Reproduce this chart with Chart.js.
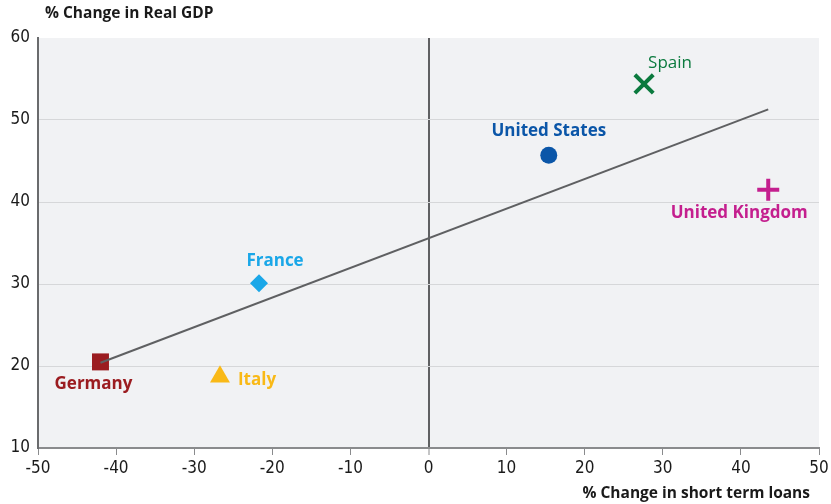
<!DOCTYPE html>
<html><head><meta charset="utf-8">
<script src="https://cdn.jsdelivr.net/npm/chart.js@4/dist/chart.umd.min.js"></script>
<style>html,body{margin:0;padding:0;background:#fff}#wrap{width:831px;height:504px}</style>
</head><body><div id="wrap"><canvas id="c" width="831" height="504"></canvas></div>
<script>
const countries = ["Germany","Italy","France","United States","Spain","United Kingdom"];
const loanChange = [-42.0, -26.7, -21.7, 15.4, 27.6, 43.5];
const gdpChange = [20.5, 18.7, 30.1, 45.7, 54.4, 41.5];
const trendX = [-42.0, 43.5];
const trendY = [20.4, 51.3];
const xTicks = [-50,-40,-30,-20,-10,0,10,20,30,40,50];
const yTicks = [10,20,30,40,50,60];

const colors = ["#9b1c20","#f9b917","#1aa7e8","#0b56a8","#0b7a3e","#c41f8e"];
const styles = ["rect","triangle","rectRot","circle","crossRot","cross"];
const radii = [12,11.5,9,8.5,13,11];
const borders = [0,0,0,0,4,4];
// label offsets [dx, dy, align, bold]
const labelPos = [[-7,22,"center",true],[18,3,"left",true],[16,-22,"center",true],[0,-24,"center",true],[26,-21,"center",false],[-29,23,"center",true]];

const TICKFONT = "'Liberation Sans Narrow','DejaVu Sans Condensed',sans-serif";
const datasets = countries.map((c,i)=>({
  type:"scatter", label:c,
  data:[{x:loanChange[i], y:gdpChange[i]}],
  pointStyle:styles[i], pointRadius:radii[i], pointHoverRadius:radii[i],
  backgroundColor:colors[i], borderColor:colors[i], borderWidth:borders[i]
}));
datasets.unshift({
  type:"line", label:"trend",
  data: trendX.map((x,i)=>({x, y:trendY[i]})),
  borderColor:"#5f6062", borderWidth:2, pointRadius:0, fill:false, tension:0
});

const bgPlugin = {
  id:"bg",
  beforeDraw(chart){
    const {ctx, chartArea:a} = chart;
    ctx.save(); ctx.fillStyle="#f1f2f4";
    ctx.fillRect(a.left, a.top, a.right-a.left, a.bottom-a.top);
    ctx.restore();
  },
  afterDraw(chart){
    const ctx = chart.ctx;
    ctx.save();
    ctx.fillStyle="#1a1a1a";
    ctx.font="bold 15.5px 'Open Sans', sans-serif";
    ctx.textBaseline="middle";
    ctx.textAlign="left";
    ctx.fillText("% Change in Real GDP", 45, 14);
    ctx.textAlign="right";
    ctx.fillText("% Change in short term loans", 810, 494);
    const xs = chart.scales.x, ys = chart.scales.y;
    countries.forEach((c,i)=>{
      const px = xs.getPixelForValue(loanChange[i]);
      const py = ys.getPixelForValue(gdpChange[i]);
      const p = labelPos[i];
      ctx.fillStyle = colors[i];
      ctx.font = (p[3]?"bold ":"") + "17px 'Open Sans', sans-serif";
      ctx.textAlign = p[2];
      ctx.fillText(c, px+p[0], py+p[1]);
    });
    ctx.restore();
  }
};

new Chart(document.getElementById("c"), {
  data:{datasets},
  options:{
    responsive:false, animation:false,
    layout:{autoPadding:false, padding:{top:38,right:12,left:0,bottom:0}},
    plugins:{legend:{display:false}, tooltip:{enabled:false}},
    scales:{
      x:{type:"linear", min:-50, max:50,
        afterBuildTicks(s){ s.ticks = xTicks.map(v=>({value:v})); },
        afterFit(s){ s.height = 56; s.paddingLeft = 0; s.paddingRight = 0; },
        grid:{drawOnChartArea:true, drawTicks:true, tickLength:7,
          color:(c)=> c.tick && c.tick.value===0 ? "#5f6062" : "rgba(0,0,0,0)",
          lineWidth:(c)=> c.tick && c.tick.value===0 ? 2 : 1,
          tickColor:"#8a8b8d", tickWidth:1},
        border:{display:true, color:"#8a8b8d", width:2},
        ticks:{color:"#1a1a1a", font:{family:TICKFONT, size:17}, padding:3, maxRotation:0,
          callback:(v)=>String(v)}
      },
      y:{type:"linear", min:10, max:60,
        afterBuildTicks(s){ s.ticks = yTicks.map(v=>({value:v})); },
        afterFit(s){ s.width = 38; s.paddingTop = 0; s.paddingBottom = 0; },
        grid:{drawTicks:false,
          color:(c)=> (c.tick && (c.tick.value===10 || c.tick.value===60)) ? "rgba(0,0,0,0)" : "#d6d7d9",
          lineWidth:1},
        border:{display:true, color:"#6a6b6d", width:2},
        ticks:{color:"#1a1a1a", font:{family:TICKFONT, size:17}, padding:8,
          callback:(v)=>String(v)}
      }
    }
  },
  plugins:[bgPlugin]
});
</script></body></html>
